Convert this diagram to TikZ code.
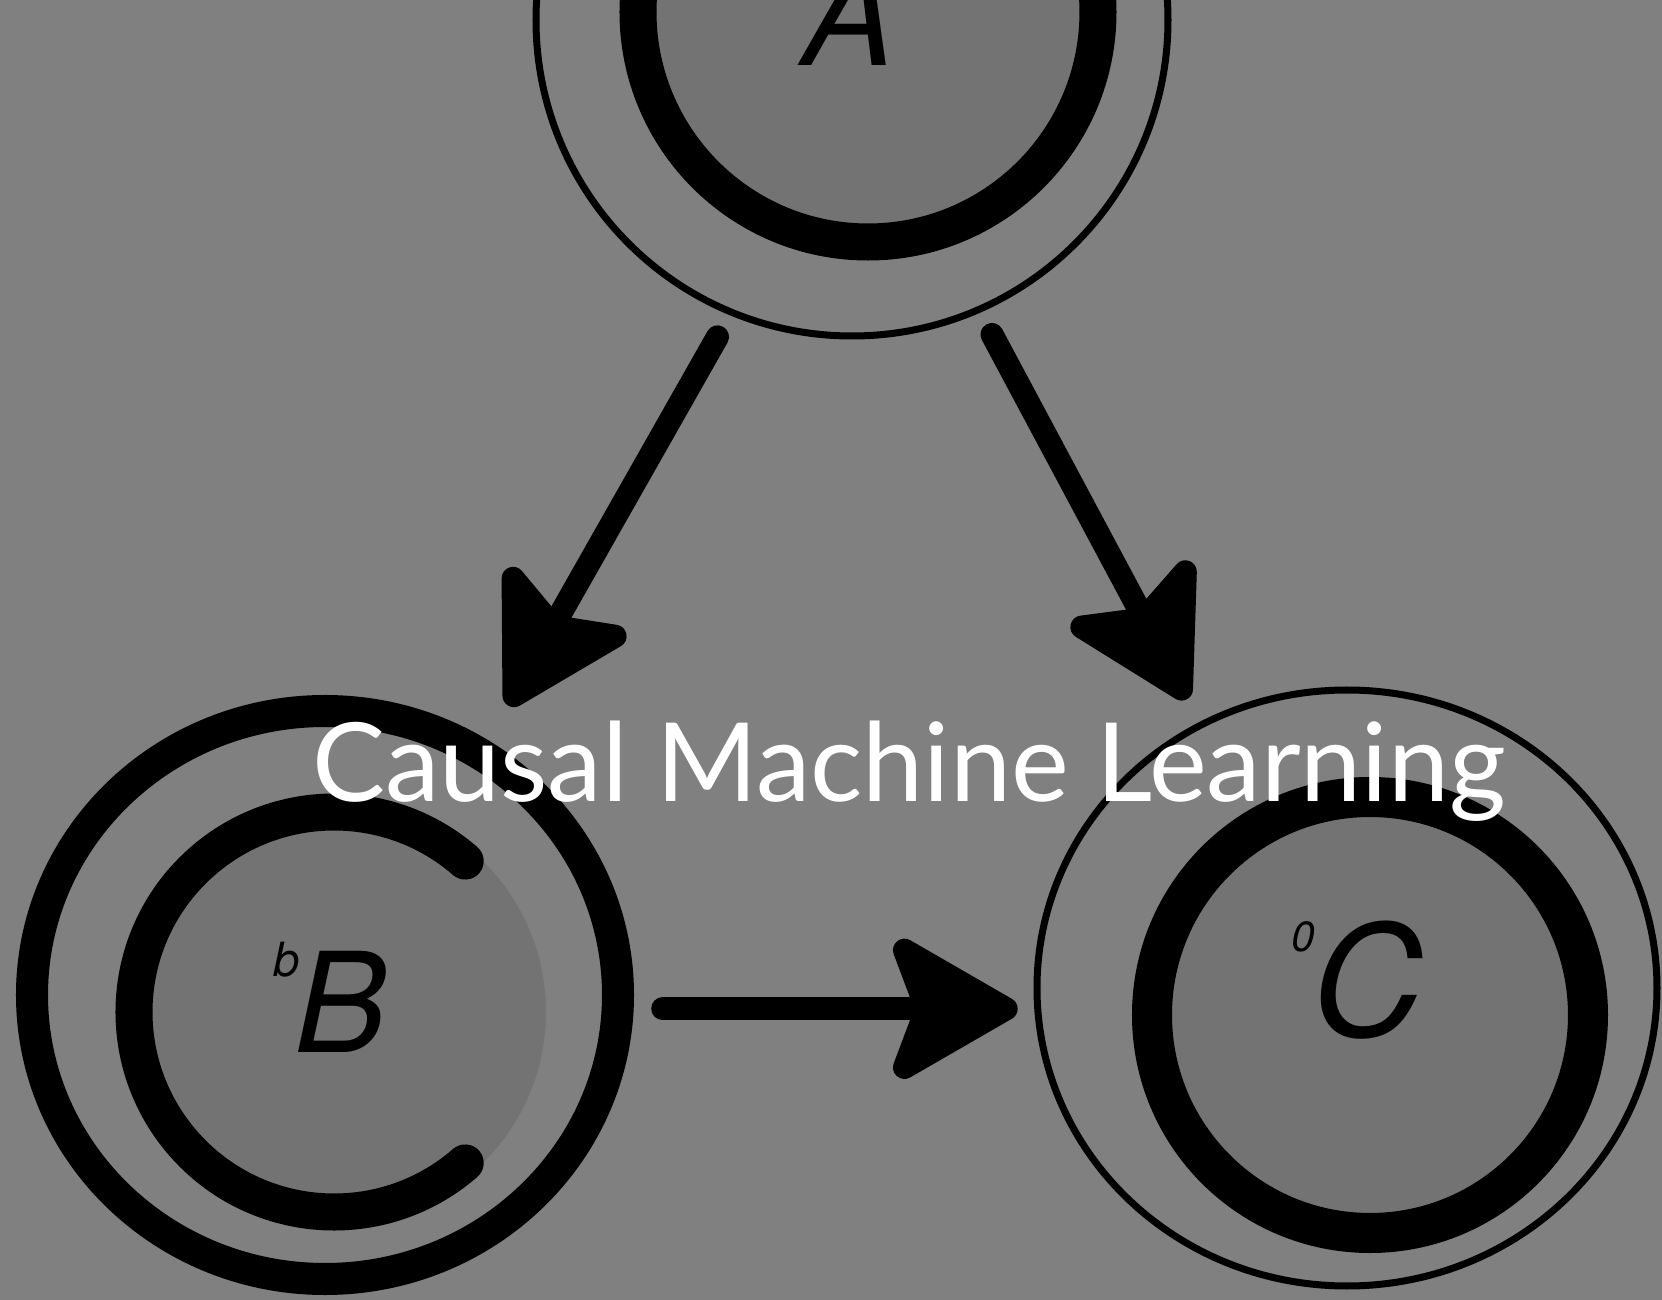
\documentclass[tikz,border=0pt]{standalone}
\usepackage{fontspec}
\setmainfont{Lato}
\newfontfamily\heros{TeX Gyre Heros}
\usetikzlibrary{arrows.meta}
\definecolor{bggray}{RGB}{128,128,128}
\definecolor{fillgray}{RGB}{115,115,115}
\begin{document}
\begin{tikzpicture}[x=0.01cm,y=-0.01cm,
  arr/.style={line width=2.3mm, line cap=round,
    -{Stealth[length=14.5mm,width=16.5mm,inset=3mm,round]}},
  anchorcirc/.style={circle, inner sep=0pt, outer sep=0pt, minimum size=#1},
  thick ring/.style={draw=black, line width=#1},
  thin ring/.style={draw=black, line width=0.7mm},
  letter/.style={font=\heros\itshape\fontsize{#1}{#1}\selectfont, anchor=base, inner sep=0pt}
]
\fill[bggray] (0,0) rectangle (1662,1300);
\useasboundingbox (0,0) rectangle (1662,1300);

% ---- A ----
\fill[fillgray] (868,12) circle (212);
\draw[thick ring=3.7mm] (868,12) circle (230);
\draw[thin ring] (852,20) circle (316);
\node[anchorcirc=68.8mm] (A) at (852,20) {};

% ---- B ----
\fill[fillgray] (334,1012) circle (212);
\draw[thick ring=3.7mm, line cap=round] (334,1012) ++(49:200) arc[start angle=49, end angle=311, radius=200];
\draw[thick ring=3.2mm] (325,995) ellipse [x radius=293, y radius=284];
\node[anchorcirc=68mm] (B) at (323,991) {};

% ---- C ----
\fill[fillgray] (1370,1015) circle (200);
\draw[thick ring=4mm] (1370,1015) circle (218);
\draw[thin ring] (1347,988) ellipse [x radius=310, y radius=298];
\node[anchorcirc=66mm] (C) at (1347,988) {};

% ---- arrows ----
\draw[arr] (A.247.2) -- (B.57.2);
\draw[arr] (A.294.6) -- (C.119.8);
\draw[arr] (B.-3.7) -- (C.184.1 |- B.-3.7);

% ---- letters ----
\node[letter=39.5] (lA) at (849,66) {A};
\node[letter=39.5] (lB) at (341,1053) {B};
\node[letter=44] (lC) at (1367,1037) {C};
\node[letter=13.4] (sB) at (287,977) {b};
\node[letter=12] (sC) at (1303,952) {0};

% ---- title ----
\node[text=white, font=\fontsize{31.1}{33}\selectfont, anchor=base, inner sep=0pt] (title) at (909,802) {Causal Machine Learning};
\end{tikzpicture}
\end{document}
